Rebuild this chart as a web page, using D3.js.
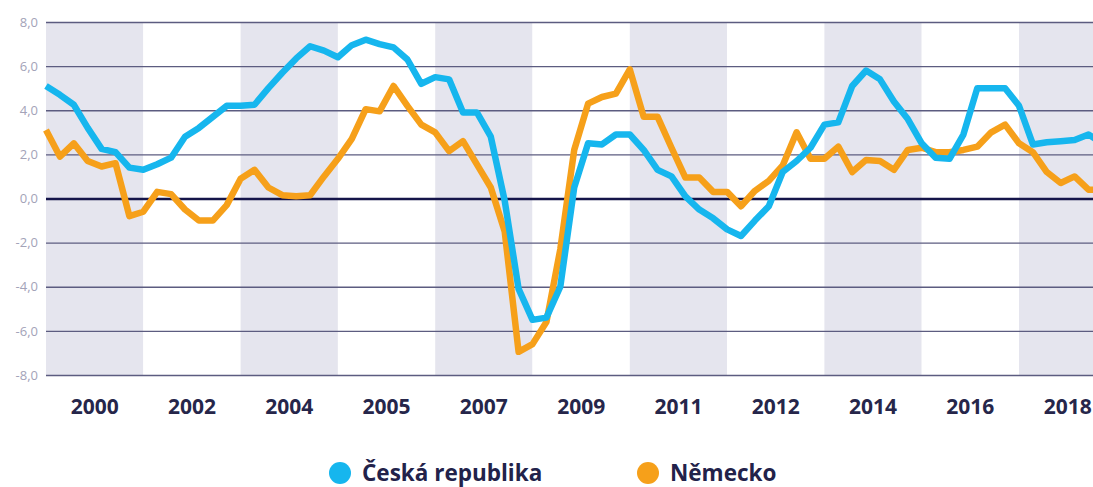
<!DOCTYPE html>
<html>
<head>
<meta charset="utf-8">
<script src="https://cdn.jsdelivr.net/npm/d3@7"></script>
<style>
  body { margin: 0; background: #fff; }
  svg { display: block; font-family: "Open Sans", "Noto Sans", sans-serif; }
</style>
</head>
<body>
<script>
// kvartální data 1999Q1 - 2018Q1 (meziroční změna, %)
const ceskaRepublika = [
  5.1, 4.7, 4.25, 3.2, 2.25, 2.1, 1.4, 1.3, 1.55, 1.85,
  2.8, 3.2, 3.7, 4.2, 4.2, 4.25, 5.0, 5.7, 6.35, 6.9,
  6.7, 6.4, 6.95, 7.2, 7.0, 6.85, 6.3, 5.2, 5.5, 5.4,
  3.9, 3.9, 2.8, -0.1, -4.1, -5.5, -5.4, -4.0, 0.5, 2.5,
  2.45, 2.9, 2.9, 2.2, 1.3, 1.0, 0.1, -0.5, -0.9, -1.4,
  -1.7, -1.0, -0.35, 1.2, 1.7, 2.3, 3.35, 3.45, 5.1, 5.8,
  5.4, 4.4, 3.6, 2.5, 1.85, 1.8, 2.9, 5.0, 5.0, 5.0,
  4.2, 2.45, 2.55, 2.6, 2.65, 2.9, 2.5
];
const nemecko = [
  3.1, 1.9, 2.5, 1.7, 1.45, 1.6, -0.8, -0.6, 0.3, 0.2,
  -0.5, -1.0, -1.0, -0.3, 0.9, 1.3, 0.5, 0.15, 0.1, 0.15,
  1.0, 1.8, 2.7, 4.05, 3.95, 5.1, 4.2, 3.35, 3.0, 2.15,
  2.6, 1.55, 0.5, -1.5, -6.95, -6.6, -5.6, -2.3, 2.2, 4.3,
  4.6, 4.75, 5.85, 3.7, 3.7, 2.3, 0.95, 0.95, 0.3, 0.3,
  -0.35, 0.35, 0.8, 1.5, 3.0, 1.8, 1.8, 2.35, 1.2, 1.75,
  1.7, 1.3, 2.2, 2.3, 2.1, 2.1, 2.2, 2.35, 3.0, 3.35,
  2.5, 2.1, 1.2, 0.7, 1.0, 0.4, 0.4
];
// popisky pásem (každé pásmo = 7 čtvrtletí)
const bandLabels = ["2000", "2002", "2004", "2005", "2007", "2009", "2011", "2012", "2014", "2016", "2018"];
const yTicks = [8, 6, 4, 2, 0, -2, -4, -6, -8];
const legendNames = ["Česká republika", "Německo"];

const width = 1093, height = 487;
const colBlue = "#16b6ee", colOrange = "#f6a01a";
const quartersPerBand = 7;

const svg = d3.select("body").append("svg")
  .attr("width", width)
  .attr("height", height);

const x = d3.scaleLinear()
  .domain([0, bandLabels.length * quartersPerBand])
  .range([46, 46 + bandLabels.length * quartersPerBand * 13.9]);

const y = d3.scaleLinear()
  .domain([-8, 8])
  .range([375, 22]);

// pásma
svg.append("g").selectAll("rect")
  .data(bandLabels)
  .join("rect")
    .attr("x", (d, i) => x(i * quartersPerBand))
    .attr("y", y(8))
    .attr("width", x(quartersPerBand) - x(0))
    .attr("height", y(-8) - y(8))
    .attr("fill", (d, i) => i % 2 === 0 ? "#e5e5ee" : "#ffffff");

// mřížka
const yAxis = d3.axisLeft(y)
  .tickValues(yTicks)
  .tickSize(-(width - 46))
  .tickFormat(d => d3.format(".1f")(d).replace(".", ",").replace("−", "-"));

const gy = svg.append("g")
  .attr("transform", "translate(46,0)")
  .call(yAxis);
gy.select(".domain").remove();
gy.selectAll(".tick line")
  .attr("stroke", d => d === 0 ? "#15154a" : "#5c5c80")
  .attr("stroke-width", d => d === 0 ? 2.6 : 1.3);
gy.selectAll(".tick text")
  .attr("x", -8)
  .attr("fill", "#a3a3b8")
  .attr("font-size", 13)
  .attr("font-family", "'Open Sans', sans-serif");

// popisky osy x
svg.append("g").selectAll("text")
  .data(bandLabels)
  .join("text")
    .attr("x", (d, i) => x(i * quartersPerBand + quartersPerBand / 2))
    .attr("y", 414)
    .attr("text-anchor", "middle")
    .attr("font-size", 21)
    .attr("font-weight", "bold")
    .attr("fill", "#26264a")
    .text(d => d);

// linie
const line = d3.line()
  .x((d, i) => x(i))
  .y(d => y(d));

svg.append("path")
  .datum(nemecko)
  .attr("d", line)
  .attr("fill", "none")
  .attr("stroke", colOrange)
  .attr("stroke-width", 6.5)
  .attr("stroke-linejoin", "round");

svg.append("path")
  .datum(ceskaRepublika)
  .attr("d", line)
  .attr("fill", "none")
  .attr("stroke", colBlue)
  .attr("stroke-width", 6.5)
  .attr("stroke-linejoin", "round");

// legenda
const legend = svg.append("g");
const legX = [340, 648];
const legColors = [colBlue, colOrange];

legend.selectAll("circle")
  .data(legendNames)
  .join("circle")
    .attr("cx", (d, i) => legX[i])
    .attr("cy", 473)
    .attr("r", 11)
    .attr("fill", (d, i) => legColors[i]);

legend.selectAll("text")
  .data(legendNames)
  .join("text")
    .attr("x", (d, i) => legX[i] + 22)
    .attr("y", 481)
    .attr("font-size", 22.5)
    .attr("font-weight", "bold")
    .attr("fill", "#22224a")
    .text(d => d);
</script>
</body>
</html>
